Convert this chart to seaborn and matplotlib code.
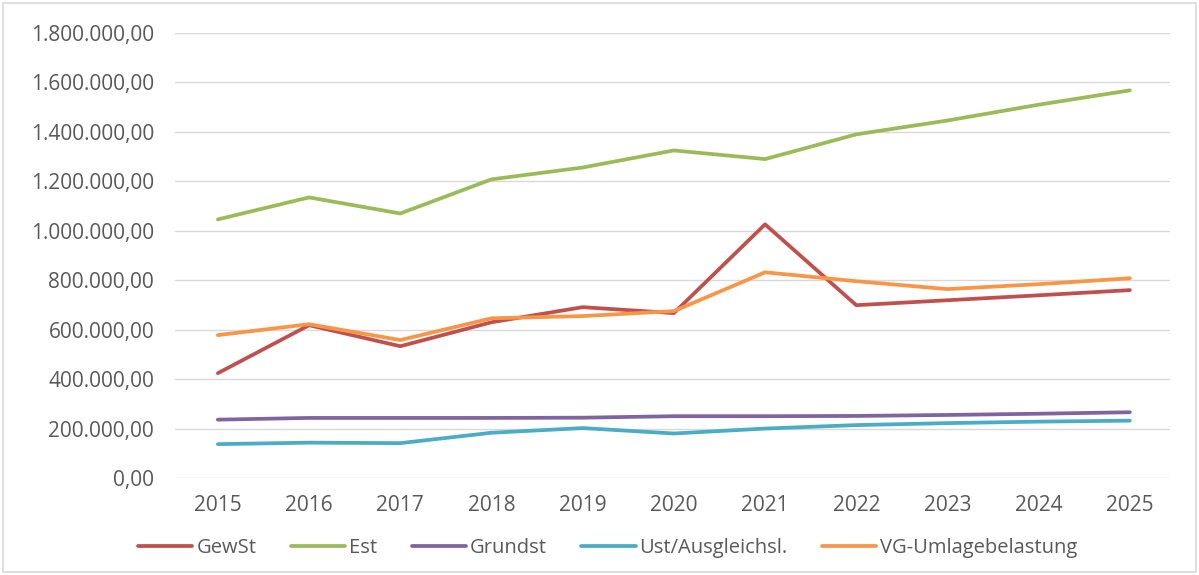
import matplotlib
matplotlib.use("Agg")
import matplotlib.pyplot as plt
from matplotlib.patches import Rectangle
from matplotlib.ticker import FuncFormatter
import seaborn as sns
import pandas as pd

years = [2015, 2016, 2017, 2018, 2019, 2020, 2021, 2022, 2023, 2024, 2025]
gewst = [424000, 618000, 533000, 630000, 691000, 667000, 1026000, 699000, 719000, 739000, 760000]
est = [1046000, 1135000, 1070000, 1208000, 1256000, 1325000, 1290000, 1390000, 1446000, 1510000, 1568000]
grundst = [236000, 243000, 243000, 243000, 244000, 250000, 250000, 251000, 255000, 260000, 266000]
ust = [137000, 143000, 141000, 183000, 202000, 180000, 200000, 214000, 222000, 228000, 232000]
vg_umlage = [578000, 622000, 558000, 646000, 655000, 675000, 832000, 796000, 764000, 784000, 808000]

series_names = ["GewSt", "Est", "Grundst", "Ust/Ausgleichsl.", "VG-Umlagebelastung"]
series_values = [gewst, est, grundst, ust, vg_umlage]
colors = ["#C0504D", "#9BBB59", "#8064A2", "#4BACC6", "#F79646"]

df = pd.DataFrame(
    [(y, name, v) for name, vals in zip(series_names, series_values) for y, v in zip(years, vals)],
    columns=["Jahr", "Reihe", "Wert"],
)

sns.set_theme(style="white")
plt.rcParams["font.family"] = ["Open Sans", "DejaVu Sans"]

fig = plt.figure(figsize=(11.99, 5.75), dpi=100)
ax = fig.add_axes([175 / 1199, 1 - 478 / 575, (1170 - 175) / 1199, (478 - 33) / 575])

sns.lineplot(
    data=df, x="Jahr", y="Wert", hue="Reihe", hue_order=series_names,
    palette=colors, linewidth=2.7, ax=ax, legend=False, sort=False,
)

ax.set_xlim(2014.53, 2025.44)
ax.set_ylim(0, 1800000)
ax.set_yticks(range(0, 1800001, 200000))
ax.set_xticks(years)
ax.yaxis.set_major_formatter(
    FuncFormatter(lambda v, _: f"{v:,.2f}".replace(",", "X").replace(".", ",").replace("X", "."))
)
ax.grid(axis="y", color="#d9d9d9", linewidth=1.0)
ax.set_axisbelow(True)
for s in ax.spines.values():
    s.set_visible(False)
ax.tick_params(axis="both", length=0, labelsize=15, labelcolor="#595959")
ax.tick_params(axis="y", pad=15)
ax.tick_params(axis="x", pad=12)
ax.set_xlabel("")
ax.set_ylabel("")

handles = [plt.Line2D([0], [0], color=c, linewidth=2.7) for c in colors]
leg = fig.legend(
    handles, series_names, loc="center", bbox_to_anchor=(0.507, 1 - 548 / 575),
    ncol=5, frameon=False, fontsize=14.5, handlelength=2.7, handletextpad=0.2,
    columnspacing=1.7,
)
for t in leg.get_texts():
    t.set_color("#595959")

fig.patches.append(Rectangle((3 / 1199, 3 / 575), 1 - 6 / 1199, 1 - 6 / 575,
                             transform=fig.transFigure, fill=False,
                             edgecolor="#d9d9d9", linewidth=1.2))

fig.savefig("out.png", dpi=100, facecolor="white")
